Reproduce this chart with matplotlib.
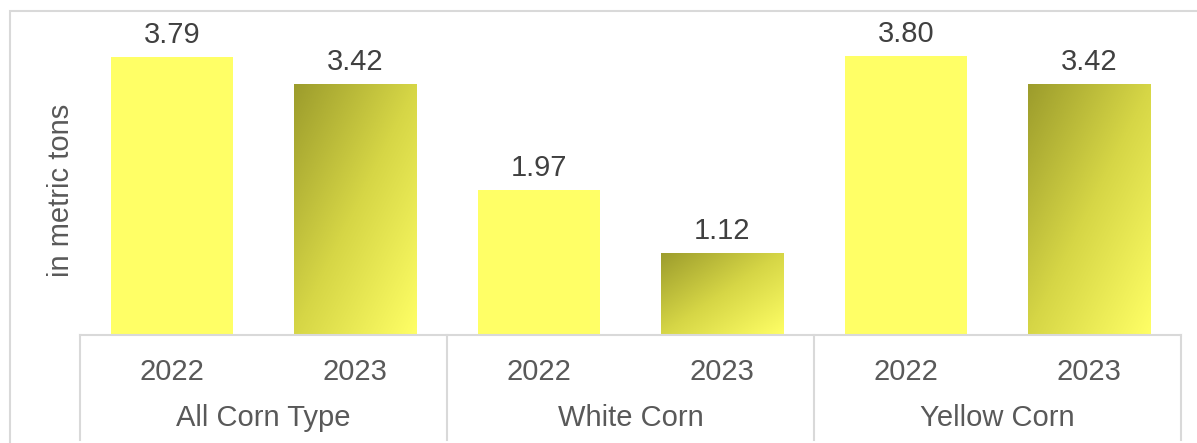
import numpy as np
import matplotlib
matplotlib.use('Agg')
import matplotlib.pyplot as plt
from matplotlib.patches import Rectangle
from matplotlib.colors import LinearSegmentedColormap

groups = ['All Corn Type', 'White Corn', 'Yellow Corn']
years = ['2022', '2023']
vals_2022 = [3.79, 1.97, 3.80]
vals_2023 = [3.42, 1.12, 3.42]

plt.rcParams['font.family'] = ['Liberation Sans', 'DejaVu Sans']

W, H = 1197, 443
fig = plt.figure(figsize=(W / 100, H / 100), dpi=100)

# axes box in pixel terms
left, right, base, top = 80, 1181, 335, 11
ax = fig.add_axes([left / W, 1 - base / H, (right - left) / W, (base - top) / H])
ax.axis('off')

grid = '#d9d9d9'
bw = 0.665
fs = 21
grad = LinearSegmentedColormap.from_list('g', ['#9c9c2c', '#d6d646', '#ffff66'])
gx, gy = np.meshgrid(np.linspace(0, 1, 200), np.linspace(0, 1, 200))
gimg = (gx + gy) / 2  # row 0 = top (origin upper)

for i, g in enumerate(groups):
    x1 = 2 * i
    x2 = 2 * i + 1
    ax.bar(x1, vals_2022[i], width=bw, color='#ffff66', zorder=2)
    b = ax.bar(x2, vals_2023[i], width=bw, color='none', zorder=2)[0]
    im = ax.imshow(gimg, cmap=grad, extent=[x2 - bw / 2, x2 + bw / 2, 0, vals_2023[i]],
                   aspect='auto', origin='upper', zorder=2)
    im.set_clip_path(b)
    for x, v in [(x1, vals_2022[i]), (x2, vals_2023[i])]:
        ax.annotate(f'{v:.2f}', (x, v), xytext=(0, 16), textcoords='offset points',
                    ha='center', va='center', fontsize=fs, color='#404040')
    # category labels
    for x, yr in [(x1, years[0]), (x2, years[1])]:
        ax.text(x, -(372 - base) / (base - top), yr, transform=ax.get_xaxis_transform(),
                ha='center', va='center', fontsize=fs, color='#595959')
    ax.text(x1 + 0.5, -(418 - base) / (base - top), g, transform=ax.get_xaxis_transform(),
            ha='center', va='center', fontsize=fs, color='#595959')

ax.set_xlim(-0.5, 5.5)
ax.set_ylim(0, 4.417)

# category box lines
ybot = -(440 - base) / (base - top)
tr = ax.get_xaxis_transform()
ax.plot([-0.5, 5.5], [0, 0], color=grid, lw=1.5, transform=tr, clip_on=False, zorder=3)
for xv in [-0.5, 1.5, 3.5, 5.5]:
    ax.plot([xv, xv], [0, ybot], color=grid, lw=1.5, transform=tr, clip_on=False)

# y label
fig.text(61 / W, 1 - 190 / H, 'in metric tons', rotation=90, ha='center', va='center',
         fontsize=fs, color='#595959')

# chart border (top and left visible)
fig.patches.append(Rectangle((10 / W, -0.2), 2, 1.2 - 11 / H, transform=fig.transFigure,
                             fill=False, edgecolor=grid, lw=1.5, figure=fig))

fig.savefig('out.png', dpi=100)
